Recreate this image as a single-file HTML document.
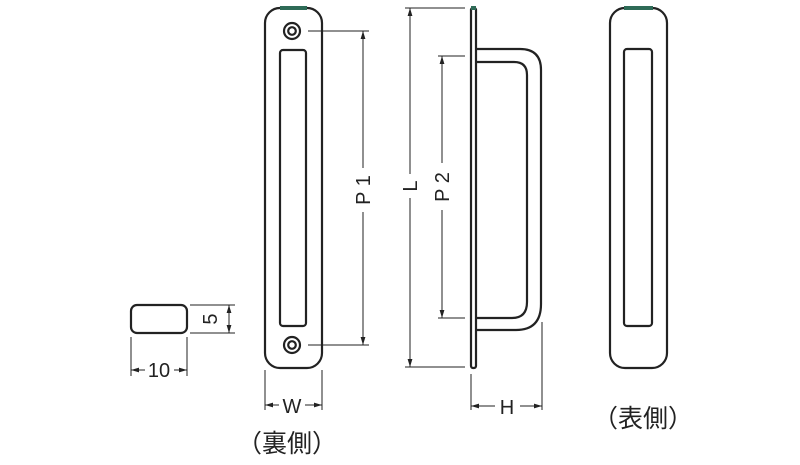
<!DOCTYPE html>
<html><head><meta charset="utf-8"><style>
html,body{margin:0;padding:0;background:#fff;}
svg{display:block}
text{font-family:"Liberation Sans","Noto Sans CJK JP",sans-serif;fill:#222}
</style></head><body>
<svg width="800" height="465" viewBox="0 0 800 465" xmlns="http://www.w3.org/2000/svg">
<defs>
<marker id="a" viewBox="0 0 10 6" refX="10" refY="3" markerWidth="8" markerHeight="5" orient="auto-start-reverse" markerUnits="userSpaceOnUse"><path d="M0,0L10,3L0,6z" fill="#222"/></marker>
</defs>
<g fill="none" stroke="#222" stroke-width="2.2">
<rect x="265" y="8" width="57" height="360" rx="15"/>
<rect x="280" y="50" width="26" height="276" rx="3"/>
<circle cx="292" cy="31" r="8"/><circle cx="292" cy="31" r="3.8"/>
<circle cx="292" cy="345" r="8"/><circle cx="292" cy="345" r="3.8"/>
<rect x="610" y="8" width="57" height="360" rx="15"/>
<rect x="624" y="49" width="28" height="277" rx="3"/>
<rect x="471" y="8" width="5" height="360" rx="2"/>
<path d="M476 49 H520 Q541 49 541 70 V304 Q541 330 516 330 H476"/>
<path d="M476 62 H514 Q527 62 527 75 V302 Q527 318 512 318 H476"/>
<rect x="131" y="305" width="56" height="28" rx="6"/>
</g>
<g stroke="#2e6b57" stroke-width="4">
<line x1="280" y1="8" x2="307" y2="8"/>
<line x1="624" y1="8" x2="653" y2="8"/>
<line x1="471" y1="8" x2="476" y2="8"/>
</g>
<g stroke="#222" stroke-width="1" fill="none">
<line x1="308" y1="31" x2="369" y2="31"/><line x1="308" y1="345" x2="369" y2="345"/>
<line x1="363" y1="31" x2="363" y2="168" marker-start="url(#a)"/><line x1="363" y1="212" x2="363" y2="345" marker-end="url(#a)"/>
<line x1="405" y1="8" x2="465" y2="8"/><line x1="405" y1="367" x2="465" y2="367"/>
<line x1="410" y1="8" x2="410" y2="174" marker-start="url(#a)"/><line x1="410" y1="198" x2="410" y2="367" marker-end="url(#a)"/>
<line x1="438" y1="56" x2="465" y2="56"/><line x1="438" y1="318" x2="465" y2="318"/>
<line x1="442" y1="56" x2="442" y2="163" marker-start="url(#a)"/><line x1="442" y1="210" x2="442" y2="318" marker-end="url(#a)"/>
<line x1="265" y1="370" x2="265" y2="410"/><line x1="322" y1="370" x2="322" y2="410"/>
<line x1="265" y1="405" x2="279" y2="405" marker-start="url(#a)"/><line x1="305" y1="405" x2="322" y2="405" marker-end="url(#a)"/>
<line x1="471" y1="374" x2="471" y2="410"/><line x1="542" y1="322" x2="542" y2="410"/>
<line x1="471" y1="406" x2="495" y2="406" marker-start="url(#a)"/><line x1="520" y1="406" x2="542" y2="406" marker-end="url(#a)"/>
<line x1="190" y1="305" x2="235" y2="305"/><line x1="190" y1="333" x2="235" y2="333"/>
<line x1="229" y1="305" x2="229" y2="333" marker-start="url(#a)" marker-end="url(#a)"/>
<line x1="131" y1="337" x2="131" y2="376"/><line x1="187" y1="337" x2="187" y2="376"/>
<line x1="131" y1="370" x2="145" y2="370" marker-start="url(#a)"/><line x1="174" y1="370" x2="187" y2="370" marker-end="url(#a)"/>
</g>
<g font-size="20">
<text transform="translate(370,190) rotate(-90)" text-anchor="middle">P 1</text>
<text transform="translate(417,186) rotate(-90)" text-anchor="middle">L</text>
<text transform="translate(449,187) rotate(-90)" text-anchor="middle">P 2</text>
<text transform="translate(217,319) rotate(-90)" text-anchor="middle">5</text>
<text x="159" y="377" text-anchor="middle">10</text>
<text x="292" y="413" text-anchor="middle">W</text>
<text x="507" y="414" text-anchor="middle">H</text>
</g>
<g font-size="25">
<text x="287" y="452" text-anchor="middle">（裏側）</text>
<text x="643" y="427" text-anchor="middle">（表側）</text>
</g>
</svg>
</body></html>
